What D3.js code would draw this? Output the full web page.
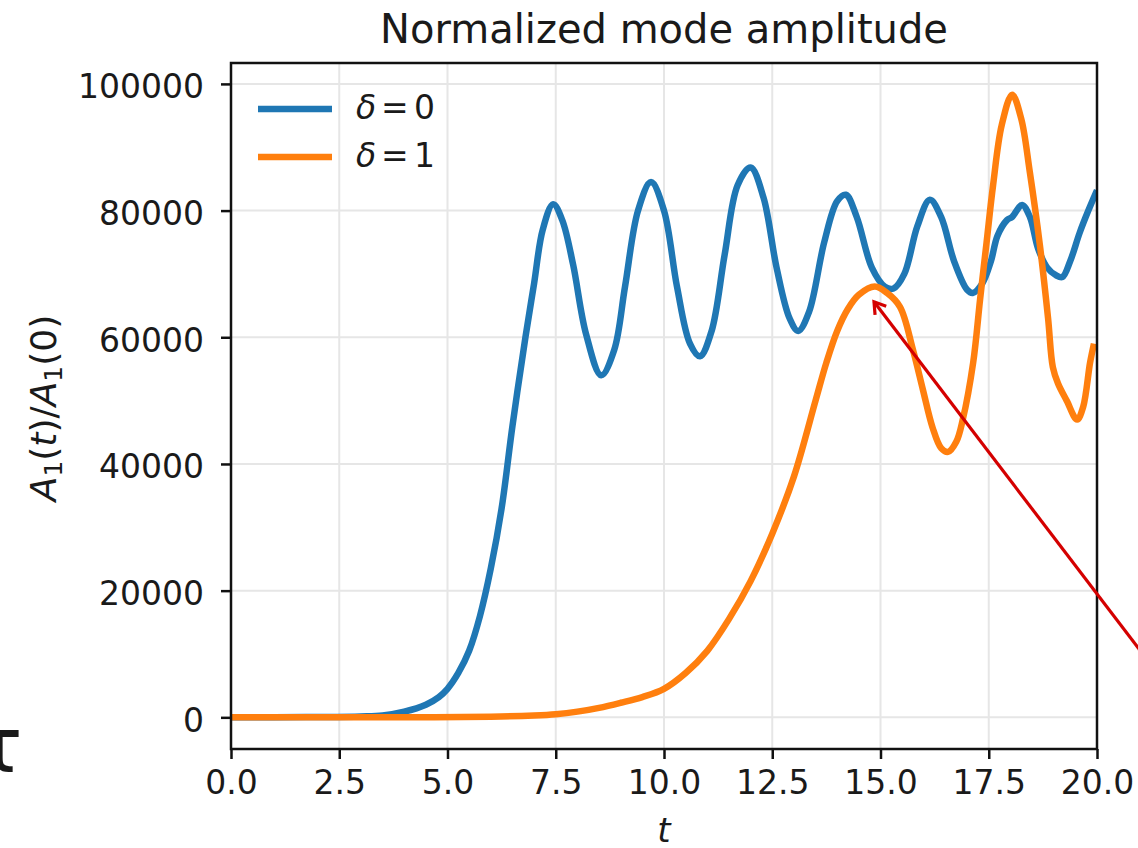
<!DOCTYPE html>
<html>
<head>
<meta charset="utf-8">
<script src="https://cdn.jsdelivr.net/npm/d3@7"></script>
<style>
  html, body { margin: 0; padding: 0; background: #fff; }
  svg { display: block; }
  text { font-family: "DejaVu Sans", sans-serif; fill: #1a1a1a; }
</style>
</head>
<body>
<svg id="chart" width="1138" height="848"></svg>
<script>
// Time samples and normalized amplitudes (in units of 1000) for each run
const tBlue = [0, 1, 2, 3, 3.5, 4.0, 4.5, 4.8, 5.0, 5.25, 5.5, 5.75, 6.0, 6.25, 6.5, 6.8, 7.0, 7.2, 7.44,
  7.65, 7.9, 8.2, 8.55, 8.85, 9.1, 9.4, 9.7, 10.0, 10.3, 10.6, 10.83, 11.1, 11.4, 11.7, 12.0,
  12.3, 12.6, 12.9, 13.1, 13.35, 13.7, 14.0, 14.2, 14.45, 14.8, 15.1, 15.3, 15.55, 15.85, 16.14,
  16.4, 16.7, 17.0, 17.13, 17.35, 17.55, 17.7, 17.92, 18.04, 18.27, 18.45, 18.64, 18.85, 19.05,
  19.2, 19.38, 19.6, 19.8, 20.0];
const vBlue = [0, 0, 0.05, 0.15, 0.3, 0.9, 2.0, 3.2, 4.5, 7, 10.5, 16, 23.5, 33, 46, 60, 68.5, 77, 81,
  78.5, 71.5, 60.5, 54, 58, 68, 80, 84.5, 80, 68, 59, 57, 61, 73, 84, 86.8,
  82, 71, 63, 61, 64, 75, 81.5, 82.5, 79, 71, 68, 67.7, 70, 77.5, 81.7,
  79, 72, 67.5, 67, 68.5, 72, 76, 78.5, 79, 80.9, 79, 74, 71, 69.8,
  69.5, 72, 76.5, 80, 83.2];

const tOrange = [0, 2, 4, 6, 7, 7.5, 8, 8.5, 9, 9.5, 10, 10.5, 11, 11.5, 12, 12.5, 13, 13.5,
  13.75, 14.0, 14.25, 14.5, 14.87, 15.15, 15.45, 15.75, 15.98, 16.2, 16.4, 16.56, 16.75, 16.9,
  17.14, 17.3, 17.45, 17.6, 17.8, 18.04, 18.25, 18.45, 18.68, 18.87, 18.98, 19.1, 19.3, 19.54,
  19.68, 19.84, 19.93];
const vOrange = [0, 0, 0, 0.1, 0.3, 0.5, 0.9, 1.5, 2.3, 3.2, 4.5, 7, 10.5, 15.5, 21.5, 29, 38, 50,
  56, 61, 64.5, 66.7, 68, 67, 64.8, 58, 51.7, 45.8, 42.5, 41.9, 43.5, 47,
  56, 66, 75, 84, 93.5, 98.3, 94.5, 86, 74.6, 63, 55.3, 52.7, 50, 47,
  49, 56, 59];

const seriesNames = ["δ = 0", "δ = 1"];
const seriesColors = ["#1f77b4", "#ff7f0e"];

const xTicks = [0, 2.5, 5, 7.5, 10, 12.5, 15, 17.5, 20];
const xTickLabels = ["0.0", "2.5", "5.0", "7.5", "10.0", "12.5", "15.0", "17.5", "20.0"];
const yTicks = [0, 20000, 40000, 60000, 80000, 100000];
const yTickLabels = ["0", "20000", "40000", "60000", "80000", "100000"];

// Annotation arrow: tail (off to the right) and tip (just under the δ = 1 maximum)
const arrowT = [21.45, 14.85];
const arrowV = [6500, 65600];

const svg = d3.select("#chart");
const pL = 231, pR = 1097, pT = 63, pB = 749;

const x = d3.scaleLinear().domain([0, 20]).range([pL, pR]);
const y = d3.scaleLinear().domain([-5000, 103300]).range([pB, pT]);

// Grid
const grid = svg.append("g");
grid.selectAll("line.gx").data(xTicks).join("line")
  .attr("x1", d => x(d)).attr("x2", d => x(d))
  .attr("y1", pT).attr("y2", pB)
  .attr("stroke", "#e6e6e6").attr("stroke-width", 2);
grid.selectAll("line.gy").data(yTicks).join("line")
  .attr("x1", pL).attr("x2", pR)
  .attr("y1", d => y(d)).attr("y2", d => y(d))
  .attr("stroke", "#e6e6e6").attr("stroke-width", 2);

// Curves
svg.append("clipPath").attr("id", "plotClip")
  .append("rect").attr("x", pL).attr("y", pT).attr("width", pR - pL).attr("height", pB - pT);

const line = d3.line()
  .x(d => x(d[0]))
  .y(d => y(d[1] * 1000))
  .curve(d3.curveCatmullRom.alpha(0.5));

const series = [d3.zip(tBlue, vBlue), d3.zip(tOrange, vOrange)];
const plot = svg.append("g").attr("clip-path", "url(#plotClip)");
// orange drawn over blue
series.forEach((s, i) => {
  plot.append("path").datum(s)
    .attr("d", line)
    .attr("fill", "none")
    .attr("stroke", seriesColors[i])
    .attr("stroke-width", 6.5)
    .attr("stroke-linejoin", "round")
    .attr("stroke-linecap", "butt");
});

// Axes
const xAxis = d3.axisBottom(x).tickValues(xTicks).tickFormat((d, i) => xTickLabels[i])
  .tickSizeInner(10).tickSizeOuter(0).tickPadding(12);
const yAxis = d3.axisLeft(y).tickValues(yTicks).tickFormat((d, i) => yTickLabels[i])
  .tickSizeInner(10).tickSizeOuter(0).tickPadding(17);

const gx = svg.append("g").attr("transform", `translate(0,${pB})`).call(xAxis);
const gy = svg.append("g").attr("transform", `translate(${pL},0)`).call(yAxis);
[gx, gy].forEach(g => {
  g.select(".domain").remove();
  g.selectAll(".tick line").attr("stroke", "#111").attr("stroke-width", 2.5);
  g.selectAll(".tick text").attr("font-family", "DejaVu Sans").attr("font-size", 33).attr("fill", "#1a1a1a");
});
gx.selectAll(".tick text").attr("dy", "0.71em");
gy.selectAll(".tick text").attr("dy", "0.42em");

// Frame
svg.append("rect")
  .attr("x", pL).attr("y", pT).attr("width", pR - pL).attr("height", pB - pT)
  .attr("fill", "none").attr("stroke", "#111").attr("stroke-width", 2.5);

// Title
svg.append("text").attr("x", (pL + pR) / 2).attr("y", 43)
  .attr("text-anchor", "middle").attr("font-size", 40)
  .text("Normalized mode amplitude");

// X label
svg.append("text").attr("x", (pL + pR) / 2).attr("y", 842)
  .attr("text-anchor", "middle").attr("font-size", 34).attr("font-style", "italic")
  .text("t");

// Y label: A1(t)/A1(0)
const yl = svg.append("text")
  .attr("transform", `translate(56,${(pT + pB) / 2 + 2}) rotate(-90)`)
  .attr("text-anchor", "middle").attr("font-size", 36);
yl.append("tspan").attr("font-style", "italic").text("A");
yl.append("tspan").attr("font-size", 25).attr("dy", 6).text("1");
yl.append("tspan").attr("dy", -6).text("(");
yl.append("tspan").attr("font-style", "italic").text("t");
yl.append("tspan").text(")/");
yl.append("tspan").attr("font-style", "italic").text("A");
yl.append("tspan").attr("font-size", 25).attr("dy", 6).text("1");
yl.append("tspan").attr("dy", -6).text("(0)");

// Legend
const legend = svg.append("g");
const legendRows = [109, 157];
seriesNames.forEach((name, i) => {
  const ry = legendRows[i];
  legend.append("line").attr("x1", 258).attr("x2", 332).attr("y1", ry).attr("y2", ry)
    .attr("stroke", seriesColors[i]).attr("stroke-width", 6.5);
  const parts = name.split(" = ");
  const t = legend.append("text").attr("y", ry + 10).attr("font-size", 33);
  t.append("tspan").attr("x", 356).attr("font-style", "italic").text(parts[0]);
  t.append("tspan").attr("x", 381).text("=");
  t.append("tspan").attr("x", 414).text(parts[1]);
});

// Red annotation arrow
const ax0 = x(arrowT[0]), ay0 = y(arrowV[0]);
const ax1 = x(arrowT[1]), ay1 = y(arrowV[1]);
const ang = Math.atan2(ay1 - ay0, ax1 - ax0);
const headLen = 13, headAng = Math.PI / 5.5;
svg.append("line").attr("x1", ax0).attr("y1", ay0).attr("x2", ax1).attr("y2", ay1)
  .attr("stroke", "#d40000").attr("stroke-width", 3.2);
svg.append("path")
  .attr("d", `M${ax1 - headLen * Math.cos(ang - headAng)},${ay1 - headLen * Math.sin(ang - headAng)}
              L${ax1},${ay1}
              L${ax1 - headLen * Math.cos(ang + headAng)},${ay1 - headLen * Math.sin(ang + headAng)}`)
  .attr("fill", "none").attr("stroke", "#d40000").attr("stroke-width", 3.2)
  .attr("stroke-linejoin", "miter");

// Partial glyph at the left edge
svg.append("text").attr("x", -24).attr("y", 772)
  .attr("font-size", 77).attr("fill", "#000")
  .text("τ");
</script>
</body>
</html>
